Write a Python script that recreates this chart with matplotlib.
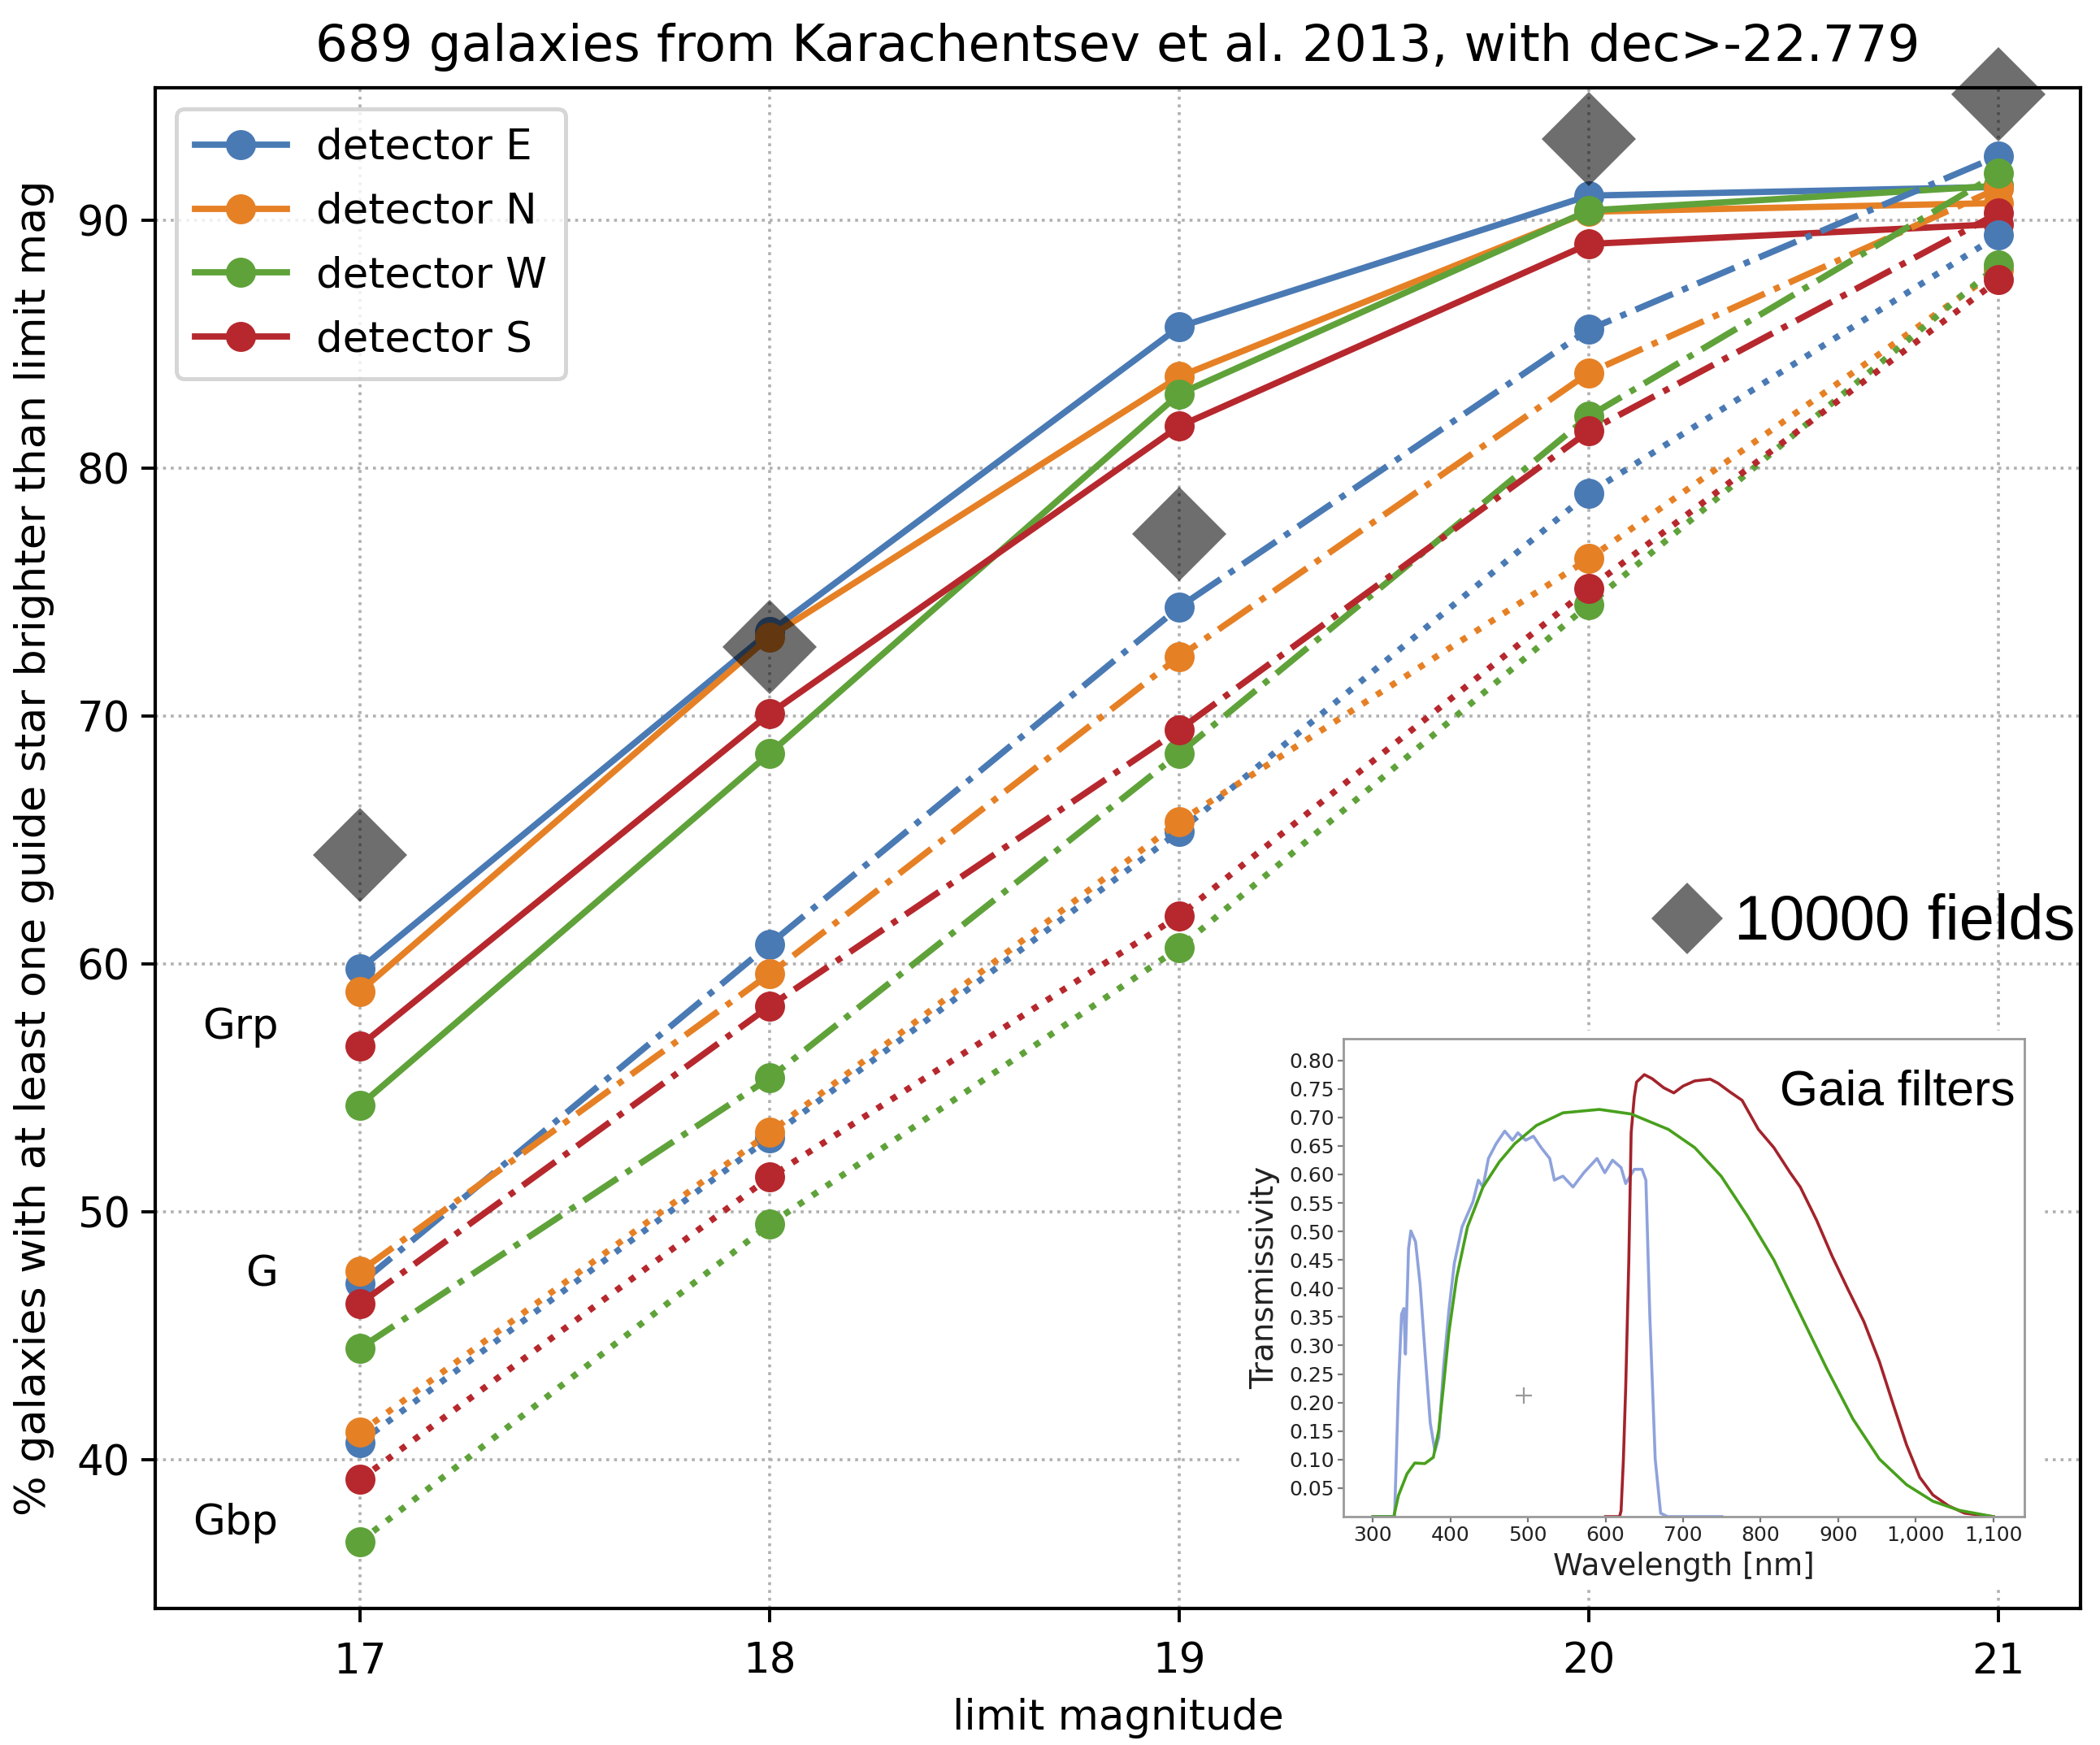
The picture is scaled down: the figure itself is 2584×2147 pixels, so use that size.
import matplotlib
matplotlib.use("Agg")
import matplotlib.pyplot as plt
from matplotlib.lines import Line2D
from matplotlib.ticker import FuncFormatter

plt.rcParams['font.family'] = ['DejaVu Sans']

# ---------------- data ----------------
mags = [17, 18, 19, 20, 21]
detectors = ["E", "N", "W", "S"]
colors = {"E": "#4a7ab4", "N": "#e68025", "W": "#5fa23a", "S": "#b6282d"}

grp_E = [59.8, 73.4, 85.7, 91.0, 91.35]
grp_N = [58.9, 73.2, 83.7, 90.35, 90.7]
grp_W = [54.3, 68.5, 83.0, 90.4, 91.4]
grp_S = [56.7, 70.1, 81.7, 89.05, 89.85]

g_E = [47.1, 60.8, 74.4, 85.6, 92.6]
g_N = [47.6, 59.6, 72.4, 83.85, 91.3]
g_W = [44.5, 55.4, 68.5, 82.1, 91.9]
g_S = [46.3, 58.3, 69.45, 81.5, 90.3]

gbp_E = [40.7, 53.0, 65.35, 79.0, 89.4]
gbp_N = [41.1, 53.2, 65.75, 76.35, 88.0]
gbp_W = [36.7, 49.5, 60.65, 74.5, 88.2]
gbp_S = [39.2, 51.4, 61.95, 75.15, 87.6]

fields_10000 = [64.4, 72.8, 77.35, 93.3, 95.1]

band_labels = ["Grp", "G", "Gbp"]
band_label_y = [57, 47, 37]

# Gaia filter transmission curves (inset)
gbp_wl = [300, 328, 333, 337, 340, 342, 346, 349, 355, 361, 367, 374, 380, 385,
          391, 398, 405, 415, 429, 436, 442, 449, 459, 470, 480, 487, 497, 507,
          517, 528, 534, 545, 558, 572, 589, 599, 609, 620, 626, 637, 647, 652,
          657, 664, 671, 680, 750]
gbp_tr = [0, 0, 0.228, 0.355, 0.365, 0.285, 0.470, 0.501, 0.482, 0.406, 0.292,
          0.164, 0.115, 0.139, 0.260, 0.361, 0.444, 0.508, 0.552, 0.590, 0.578,
          0.628, 0.654, 0.676, 0.660, 0.673, 0.660, 0.667, 0.647, 0.628, 0.590,
          0.597, 0.578, 0.603, 0.628, 0.603, 0.625, 0.612, 0.584, 0.609, 0.609,
          0.590, 0.355, 0.101, 0.006, 0, 0]

g_wl = [300, 327, 333, 344, 354, 367, 378, 385, 391, 398, 408, 422, 442, 463,
        483, 511, 545, 592, 633, 681, 715, 749, 783, 817, 851, 885, 919, 953,
        988, 1022, 1056, 1100]
g_tr = [0, 0, 0.037, 0.075, 0.094, 0.093, 0.104, 0.152, 0.228, 0.323, 0.419,
        0.508, 0.578, 0.622, 0.654, 0.686, 0.708, 0.714, 0.706, 0.679, 0.647,
        0.597, 0.527, 0.450, 0.355, 0.260, 0.171, 0.101, 0.056, 0.027, 0.011, 0]

grp_wl = [600, 618, 620, 623, 626, 630, 633, 637, 640, 650, 660, 675, 688, 700,
          715, 735, 745, 760, 776, 797, 817, 838, 851, 872, 892, 912, 933, 953,
          971, 988, 1005, 1022, 1042, 1063, 1100]
grp_tr = [0, 0, 0.01, 0.10, 0.228, 0.45, 0.673, 0.736, 0.762, 0.775, 0.768,
          0.752, 0.743, 0.755, 0.764, 0.767, 0.760, 0.745, 0.730, 0.679, 0.647,
          0.603, 0.578, 0.520, 0.457, 0.400, 0.342, 0.272, 0.196, 0.126, 0.069,
          0.038, 0.019, 0.006, 0]

inset_yticks = [0.05, 0.10, 0.15, 0.20, 0.25, 0.30, 0.35, 0.40, 0.45, 0.50,
                0.55, 0.60, 0.65, 0.70, 0.75, 0.80]
inset_xticks = [300, 400, 500, 600, 700, 800, 900, 1000, 1100]

series = [
    ("-", {"E": grp_E, "N": grp_N, "W": grp_W, "S": grp_S}),
    ("-.", {"E": g_E, "N": g_N, "W": g_W, "S": g_S}),
    (":", {"E": gbp_E, "N": gbp_N, "W": gbp_W, "S": gbp_S}),
]

# ---------------- figure ----------------
W, H, DPI = 2584, 2147, 200
fig = plt.figure(figsize=(W / DPI, H / DPI), dpi=DPI)
ax = fig.add_axes([191 / W, (H - 1979) / H, (2560 - 191) / W, (1979 - 108) / H])

FS = 18.5
for i, (ls, data) in enumerate(series):
    for d in detectors:
        ax.plot(mags, data[d], ls=ls, color=colors[d], lw=2.8, marker="o",
                ms=12.5, mec=colors[d], mew=0.8,
                label=("detector " + d) if i == 0 else None, zorder=2)

ax.plot(mags, fields_10000, ls="none", marker="D", ms=29.5, color="k",
        alpha=0.57, mew=0, clip_on=False, zorder=4)

for lab, yy in zip(band_labels, band_label_y):
    ax.text(16.8, yy, lab, ha="right", va="baseline", fontsize=FS)

ax.set_xlim(16.5, 21.2)
ax.set_ylim(34.0, 95.35)
ax.set_xticks(mags)
ax.set_yticks([40, 50, 60, 70, 80, 90])
ax.grid(True, ls=":", color="#b0b0b0", lw=1.3, zorder=0)
ax.set_axisbelow(True)
ax.tick_params(labelsize=FS, length=6.2, width=1.4)
ax.tick_params(axis="x", pad=8.5)
ax.tick_params(axis="y", pad=5)
for sp in ax.spines.values():
    sp.set_linewidth(1.5)
ax.set_xlabel("limit magnitude", fontsize=FS, labelpad=7)
ax.set_ylabel("% galaxies with at least one guide star brighter than limit mag",
              fontsize=18.8, labelpad=10)
ax.set_title("689 galaxies from Karachentsev et al. 2013, with dec>-22.779",
             fontsize=22.6, pad=12)

leg = ax.legend(loc="upper left", fontsize=FS, handlelength=2.2, numpoints=1,
                framealpha=0.8, edgecolor="0.8", fancybox=True,
                borderaxespad=0.5, labelspacing=0.56, borderpad=0.45,
                handletextpad=0.7)
leg.get_frame().set_linewidth(1.8)

# "10000 fields" marker + text
fig.add_artist(Line2D([2076 / W], [1 - 1130 / H], marker="D", ms=22.5,
                      color="#6e6e6e", mew=0, ls="none",
                      transform=fig.transFigure))
fig.text(2134 / W, 1 - 1156 / H, "10000 fields", fontsize=28,
         family=["Liberation Sans", "DejaVu Sans"], ha="left", va="baseline")

# ---------------- inset: Gaia filters ----------------
bg = fig.add_axes([1525 / W, (H - 1952) / H, (2512 - 1525) / W, (1952 - 1268) / H])
bg.set_facecolor("white")
bg.set_xticks([])
bg.set_yticks([])
for sp in bg.spines.values():
    sp.set_visible(False)

ins = fig.add_axes([1653 / W, (H - 1866) / H, (2491 - 1653) / W, (1866 - 1278) / H])
ins.plot(gbp_wl, gbp_tr, color="#8ea2dc", lw=1.3)
ins.plot(grp_wl, grp_tr, color="#a3232b", lw=1.3)
ins.plot(g_wl, g_tr, color="#48a01c", lw=1.3)
ins.plot([495], [0.212], marker="+", ms=7, mew=0.8, color="#999999", ls="none")
ins.set_xlim(262, 1140)
ins.set_ylim(0.0, 0.838)
ins.set_xticks(inset_xticks)
ins.set_yticks(inset_yticks)
ins.xaxis.set_major_formatter(FuncFormatter(lambda v, p: f"{int(v):,}"))
ins.yaxis.set_major_formatter(FuncFormatter(lambda v, p: f"{v:.2f}"))
ins.tick_params(labelsize=9, length=2.5, width=0.8, color="#777777", pad=1.5,
                labelcolor="#222222")
for sp in ins.spines.values():
    sp.set_color("#999999")
    sp.set_linewidth(1.0)
ins.set_xlabel("Wavelength [nm]", fontsize=13.4, labelpad=3, color="#222222")
ins.set_ylabel("Transmissivity", fontsize=14, labelpad=4, color="#222222")
ins.text(0.986, 0.862, "Gaia filters", transform=ins.transAxes, ha="right",
         va="baseline", fontsize=21.8, family=["Liberation Sans", "DejaVu Sans"])

fig.savefig("out.png", dpi=DPI)
